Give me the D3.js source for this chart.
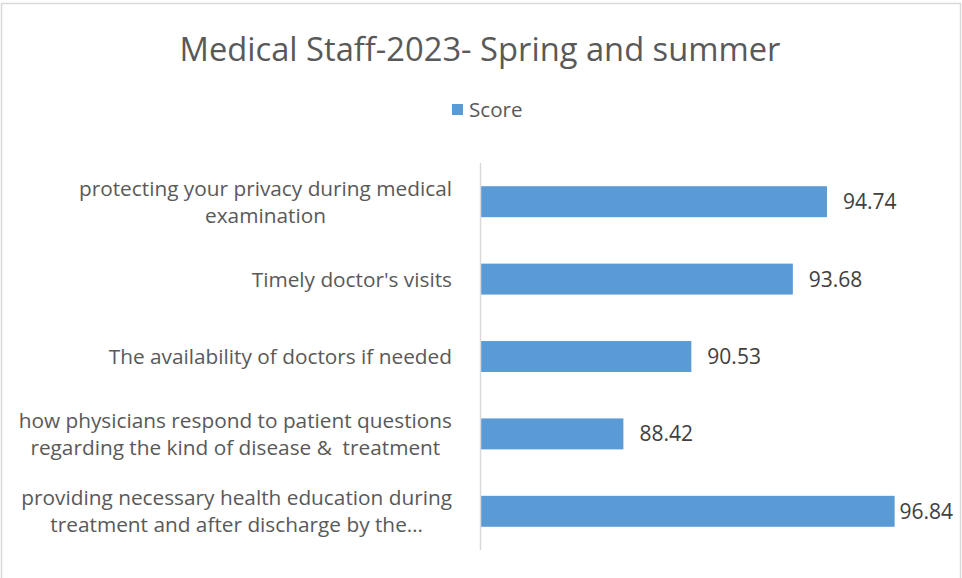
<!DOCTYPE html>
<html>
<head>
<meta charset="utf-8">
<script src="https://cdn.jsdelivr.net/npm/d3@7"></script>
<style>
  body { margin: 0; background: #fff; }
  text { font-family: "Open Sans", sans-serif; white-space: pre; }
</style>
</head>
<body>
<div id="chart"></div>
<script>
// chart data
const categories = [
  ["protecting your privacy during medical", "examination"],
  ["Timely doctor's visits"],
  ["The availability of doctors if needed"],
  ["how physicians respond to patient questions", "regarding the kind of disease &  treatment"],
  ["providing necessary health education during", "treatment and after discharge by the\u2026"]
];
const scores = [94.74, 93.68, 90.53, 88.42, 96.84];
const seriesName = "Score";
const chartTitle = "Medical Staff-2023- Spring and summer";

const width = 962, height = 578;
const barColor = "#5B9BD5";

const svg = d3.select("#chart").append("svg")
  .attr("width", width)
  .attr("height", height);

// outer chart border
svg.append("rect")
  .attr("x", 1.5).attr("y", 3.5)
  .attr("width", 959).attr("height", 580)
  .attr("fill", "none")
  .attr("stroke", "#d9d9d9")
  .attr("stroke-width", 1.5);

// title
svg.append("text")
  .attr("x", 480).attr("y", 61)
  .attr("text-anchor", "middle")
  .attr("fill", "#595959")
  .style("font-size", "32.7px")
  .text(chartTitle);

// legend
svg.append("rect")
  .attr("x", 452).attr("y", 104)
  .attr("width", 11).attr("height", 11)
  .attr("fill", barColor);
svg.append("text")
  .attr("x", 469).attr("y", 117)
  .attr("fill", "#595959")
  .style("font-size", "20.6px")
  .text(seriesName);

// scales
const x = d3.scaleLinear().domain([84, 98]).range([481, 932]);
const y = d3.scaleBand()
  .domain(d3.range(categories.length))
  .range([163, 550])
  .paddingInner(0.6)
  .paddingOuter(0.3);

// bars
svg.selectAll("rect.bar")
  .data(scores)
  .join("rect")
  .attr("class", "bar")
  .attr("x", x(84))
  .attr("y", (d, i) => y(i))
  .attr("width", d => x(d) - x(84))
  .attr("height", y.bandwidth())
  .attr("fill", barColor);

// category axis line
svg.append("line")
  .attr("x1", 480.5).attr("x2", 480.5)
  .attr("y1", 163).attr("y2", 550)
  .attr("stroke", "#d9d9d9")
  .attr("stroke-width", 1.5);

// value labels
svg.selectAll("text.val")
  .data(scores)
  .join("text")
  .attr("class", "val")
  .attr("y", (d, i) => y(i) + y.bandwidth() / 2)
  .attr("dy", "0.36em")
  .attr("fill", "#404040")
  .style("font-size", "21px")
  .text(d => d.toFixed(2))
  .attr("x", function (d) {
    const w = this.getComputedTextLength();
    return Math.min(x(d) + 16, 953 - w);
  });

// category labels, each block right aligned, lines centred inside it
const labelRight = 452;
const lineH = 27;
categories.forEach((lines, i) => {
  const cy = y(i) + y.bandwidth() / 2;
  const g = svg.append("g");
  const t = g.selectAll("text")
    .data(lines)
    .join("text")
    .attr("fill", "#595959")
    .style("font-size", "20.8px")
    .attr("text-anchor", "middle")
    .attr("dy", "0.36em")
    .attr("y", (d, j) => cy + (j - (lines.length - 1) / 2) * lineH)
    .text(d => d);
  let maxW = 0;
  t.each(function () { maxW = Math.max(maxW, this.getComputedTextLength()); });
  t.attr("x", labelRight - maxW / 2);
});
</script>
</body>
</html>
